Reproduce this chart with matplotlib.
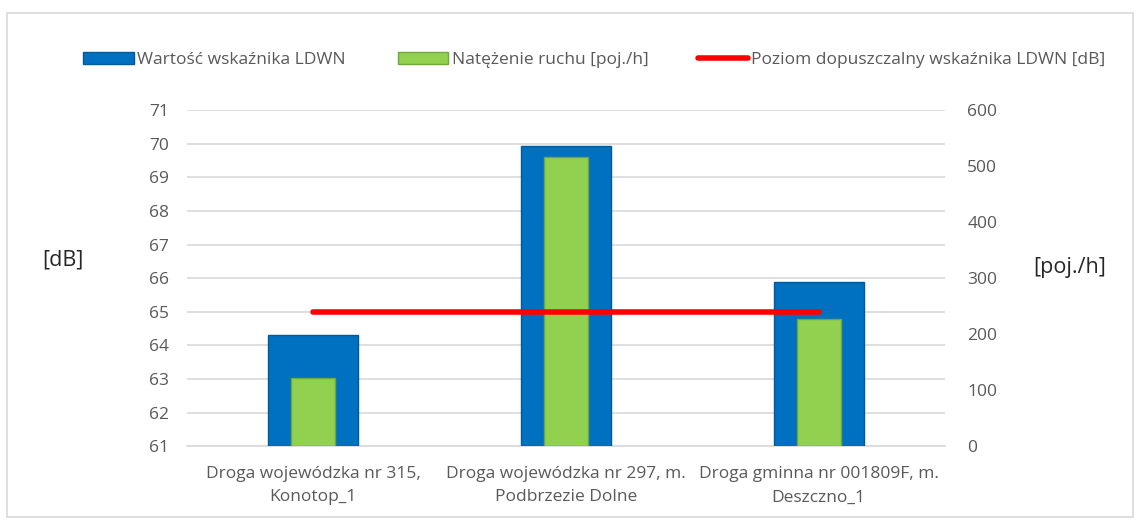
import numpy as np
import matplotlib.pyplot as plt
from matplotlib.patches import Rectangle

categories = ["Droga wojewódzka nr 315,\nKonotop_1",
              "Droga wojewódzka nr 297, m.\nPodbrzezie Dolne",
              "Droga gminna nr 001809F, m.\nDeszczno_1"]
ldwn = [64.3, 69.95, 65.9]
traffic = [122, 516, 227]
limit = [65, 65, 65]

plt.rcParams['font.family'] = ['Open Sans', 'DejaVu Sans']
gray = '#595959'

fig = plt.figure(figsize=(11.4, 5.2), dpi=100)
ax = fig.add_axes([0.164, 0.142, 0.665, 0.646])
ax2 = ax.twinx()
ax3 = ax.twinx()  # overlay on the dB scale so the limit line sits above the bars

x = np.arange(len(categories))
ax.bar(x, np.array(ldwn) - 61, bottom=61, width=0.356, color='#0070C0',
       edgecolor='#005a9c', linewidth=1.0, zorder=3, label='Wartość wskaźnika LDWN')
ax2.bar(x, traffic, width=0.174, color='#92D050',
        edgecolor='#6fa83a', linewidth=1.0, zorder=3, label='Natężenie ruchu [poj./h]')
ax3.plot(x, limit, color='#FF0000', linewidth=4, solid_capstyle='round',
         label='Poziom dopuszczalny wskaźnika LDWN [dB]')

ax.set_xlim(-0.5, 2.5)
ax.set_ylim(61, 71)
ax.set_yticks(range(61, 72))
ax2.set_ylim(0, 600)
ax2.set_yticks(range(0, 601, 100))
ax3.set_ylim(61, 71)
ax3.axis('off')
ax.set_xticks(x)
ax.set_xticklabels(categories, fontsize=12.5, color=gray, linespacing=1.65)

ax.grid(axis='y', color='#d9d9d9', linewidth=1.2, zorder=0)
ax.set_axisbelow(True)
for a in (ax, ax2):
    for s in a.spines.values():
        s.set_visible(False)
    a.tick_params(length=0, colors=gray, labelsize=12.5)
ax.spines['bottom'].set_visible(True)
ax.spines['bottom'].set_color('#d9d9d9')
ax.spines['bottom'].set_linewidth(1.2)
ax.tick_params(axis='y', pad=13)
ax.tick_params(axis='x', pad=14)
ax2.tick_params(axis='y', pad=16)

fig.text(0.037, 0.5, '[dB]', fontsize=15.5, color='#262626', va='center')
fig.text(0.906, 0.486, '[poj./h]', fontsize=15.5, color='#262626', va='center')

for a, xpos in zip((ax, ax2, ax3), (0.073, 0.349, 0.612)):
    h, l = a.get_legend_handles_labels()
    leg = fig.legend(h, l, loc='center left', bbox_to_anchor=(xpos, 0.885),
                     frameon=False, handlelength=2.9, handletextpad=0.2,
                     borderpad=0, borderaxespad=0, fontsize=12.5)
    for t in leg.get_texts():
        t.set_color(gray)

fig.add_artist(Rectangle((0.006, 0.005), 0.988, 0.97, transform=fig.transFigure,
                         fill=False, edgecolor='#d9d9d9', linewidth=1.2))

fig.savefig('out.png')
